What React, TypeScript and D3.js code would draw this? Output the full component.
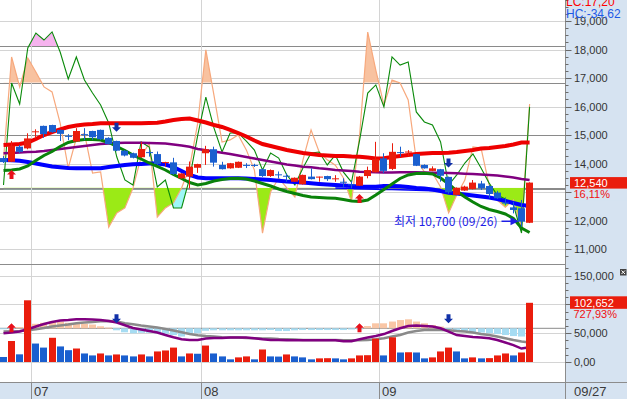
import React from 'react';
import * as d3 from 'd3';

const opens = [14190,14060,14590,14530,15110,15320,15350,15180,14970,14770,15030,15140,15180,14900,14790,14450,14360,14220,14400,14330,14040,14040,13480,13540,13850,14360,14500,13950,13830,13850,13950,13950,13800,13560,13620,13570,13360,13270,13540,13530,13560,13470,13360,13270,13220,13560,13690,14180,13810,14400,14400,14330,13950,13740,13800,13530,12900,13050,13100,13300,13210,12980,12630,12460,12430,11920];
const highs = [14260,14790,14650,15060,15200,15330,15360,15190,15030,15240,15240,15150,15190,14920,14800,14470,14380,14760,14480,14420,14060,14200,13660,14070,13990,14620,14590,14060,14020,14070,14010,13990,13820,13790,13720,13650,13510,13610,13830,13540,13570,13590,13480,13380,13560,13890,14760,14360,14710,14590,14470,14340,13970,13900,13810,13540,13160,13220,13420,13390,13240,13040,12810,12660,12720,13340];
const lows = [14020,14050,14360,14500,14880,14900,15080,14790,14820,14760,14820,14830,14820,14670,14430,14250,14180,14200,14240,13950,13890,13600,13470,13130,13670,13950,13890,13790,13820,13840,13840,13880,13530,13530,13480,13360,13350,13260,13440,13360,13390,13360,13180,13130,13210,13480,13680,13660,13770,14240,14250,13910,13820,13730,13360,12940,12890,13040,13090,13070,12780,12760,12540,12250,11780,11910];
const closes = [14050,14620,14410,14880,15130,15030,15100,15040,14960,15140,15020,14920,14850,14680,14450,14280,14200,14510,14390,13980,14050,13630,13650,13890,13980,14500,14030,13800,14010,14060,13940,13940,13560,13770,13610,13560,13500,13600,13450,13540,13450,13480,13350,13260,13540,13770,14160,13740,14410,14390,14420,13920,13830,13830,13570,12990,13150,13190,13330,13130,12930,12780,12620,12370,11960,13330];
const volumes = [8700,36400,13300,107000,32000,25000,42000,27000,20500,23400,14800,11400,14800,11400,13100,11400,9700,13100,9700,18300,20000,25000,9700,14800,14300,28500,14800,9700,4600,8000,9700,4600,21700,9700,9400,13100,9700,8000,4600,6300,6600,6300,4600,6300,11400,11800,40500,11400,42800,16500,16900,16500,6300,8000,18300,25000,18300,6300,8000,6300,6700,11400,14800,11400,16500,102652];

const maRed = [14649,14667,14684,14737,14860,15000,15105,15200,15281,15333,15368,15386,15411,15411,15411,15411,15411,15411,15421,15432,15474,15526,15561,15579,15509,15439,15351,15281,15176,15070,14948,14807,14684,14614,14544,14474,14421,14369,14333,14298,14281,14263,14263,14246,14239,14211,14176,14183,14228,14263,14298,14333,14351,14369,14369,14379,14404,14439,14474,14526,14544,14579,14614,14667,14737,14737];
const maPurple = [14358,14369,14386,14404,14414,14439,14474,14509,14544,14579,14614,14649,14684,14702,14720,14730,14730,14730,14720,14709,14702,14667,14632,14590,14509,14463,14421,14379,14333,14281,14228,14176,14123,14070,14018,13965,13930,13888,13867,13832,13807,13772,13755,13737,13712,13702,13691,13684,13684,13691,13691,13691,13684,13677,13677,13667,13656,13642,13632,13614,13597,13579,13544,13509,13456,13421];
const maBlue = [14123,14112,14098,14053,14000,13947,13895,13867,13842,13832,13832,13832,13832,13877,13912,13947,13972,13983,14000,14000,13965,13877,13737,13597,13509,13481,13481,13481,13481,13481,13474,13456,13439,13421,13396,13368,13351,13333,13305,13281,13263,13246,13228,13211,13193,13186,13186,13211,13211,13200,13176,13140,13123,13088,13035,12976,12947,12912,12877,12842,12807,12754,12684,12614,12544,12509];
const maBlue2Start = 41;
const maBlue2 = [13140,13130,13120,13112,13105,13098,13091,13084,13077,13070,13060,13053,13046,13030];
const maGreen = [13755,13772,13807,13912,14105,14281,14421,14597,14737,14807,14842,14842,14825,14737,14597,14456,14298,14158,14018,13895,13772,13614,13474,13333,13246,13298,13386,13439,13474,13481,13456,13386,13298,13211,13105,13017,12947,12877,12825,12807,12790,12779,12737,12684,12667,12719,12895,13088,13281,13474,13597,13649,13656,13632,13491,13281,13035,12825,12649,12491,12386,12316,12228,12070,11737,11579];

const stoch = [21.8,64.5,55.7,79.2,85.4,82.5,85.9,77.5,66.2,75.4,65.8,60.3,55.3,47.8,33.5,23.9,21.8,39.8,37.7,21,23.9,12.2,12.2,24.7,42.7,58.6,45.7,35.6,43.6,43.6,40.2,36.4,28.1,35.2,33.1,26,21.8,28.9,35.2,35.6,30.2,34.4,27.2,23,40.6,60.3,63.7,54.5,75.4,72,73.3,52.4,48.2,46.9,39.8,21.8,26,31,34.8,28.9,22.6,17.6,15.9,13.4,1.7,54.5];
const rsi = [40.6,79.8,68.4,79.4,74.1,68.4,66.5,54.6,37.5,48.9,50.8,35.6,36,15,20.4,22.3,29.9,41.7,47,18.8,22.3,24.2,29.9,37.9,54.6,82.5,65.3,47.4,48.2,50.1,44.4,36.7,12.7,28.4,33.7,29.9,26.5,40.6,52,43.6,40.6,38.6,33.7,24.6,50.1,89.3,74.8,61.5,71,69.9,63.4,40.6,36,35.6,30.3,20.4,27.2,32.9,45.5,45.1,31,25.3,22.6,25.3,14.6,61.9];

const volShort = [-20,-17,-13,-4,7,17,25,31,33,36,36,35,33,29,23,12,1,-5,-11,-17,-27,-36,-44,-47,-47,-41,-39,-39,-37,-37,-37,-40,-44,-47,-47,-48,-48,-48,-48,-48,-48,-48,-52,-52,-44,-37,-31,-23,-11,0,9,11,9,7,0,-13,-27,-31,-35,-37,-40,-47,-57,-67,-81,-76];
const volLong = [-13,-12,-11,-8,-4,1,7,11,15,20,23,25,28,29,27,20,16,11,7,3,-3,-9,-16,-23,-28,-31,-33,-36,-37,-37,-39,-40,-41,-41,-43,-44,-45,-47,-47,-47,-47,-47,-48,-48,-48,-47,-44,-40,-33,-27,-17,-11,-7,-7,-7,-8,-11,-13,-17,-23,-27,-33,-40,-47,-53,-57];
const volHist = [-3,-2,5,8,18,22,27,27,22,20,18,15,8,3,-8,-16,-20,-18,-18,-20,-22,-27,-33,-23,-20,-10,-8,-8,-8,-8,-8,-8,-8,-7,-11,-11,-8,-7,-7,-7,-7,-7,-7,-5,-3,9,20,20,27,33,36,27,20,13,7,-5,-9,-13,-17,-17,-20,-23,-27,-31,-33,-30];

const buySignals = [1, 44];
const sellSignals = [14, 55];

const priceTicks = [11000,12000,13000,14000,15000,16000,17000,18000,19000];
const priceLabelTicks = [11000,12000,14000,15000,16000,17000,18000,19000];
const volTicks = [0,50000,100000,150000];
const volLabelTicks = [0,50000,150000];
const monthTicks = [{ label: '07', index: 4 }, { label: '08', index: 25 }, { label: '09', index: 47 }];
const lastDate = '09/27';
const lastPriceText = '12,540';
const lastPctText = '16,11%';
const lastVolText = '102,652';
const lastVolPctText = '727,93%';
const lcText = 'LC:17,20';
const hcText = 'HC:-34,62';
const lowNote = '최저 10,700 (09/26)';
const lowIndex = 64;

const RED = '#ea1d0d';
const BLUE = '#1a5fcf';
const AXIS_BG = '#d6e3f1';
const GRID = '#d4d4d4';
const LEVEL = '#8a8a8a';
const FONT = "'Liberation Sans', Arial, sans-serif";

export default function App() {
  const N = closes.length;
  const x = d3.scaleLinear().domain([0, N - 1]).range([3.5, 529.6]);
  const cx = (i: number) => Math.floor(x(i));
  const yP = d3.scaleLinear().domain([11000, 19000]).range([249, 21]);
  const yS = d3.scaleLinear().domain([20, 80]).range([189.3, 46]);
  const yR = d3.scaleLinear().domain([30, 70]).range([187.7, 82.7]);
  const yV = d3.scaleLinear().domain([0, 150000]).range([362, 275.5]);
  const yO = d3.scaleLinear().domain([0, 100]).range([328.3, 303.3]);

  const plotR = 565.5;
  const mainB = 264;
  const volB = 382;

  const lineP = d3.line<number>().x((_, i) => x(i)).y(d => yP(d));
  const lineB2 = d3.line<number>().x((_, i) => x(i + maBlue2Start)).y(d => yP(d));
  const lineS = d3.line<number>().x((_, i) => x(i)).y(d => yS(d));
  const lineR = d3.line<number>().x((_, i) => x(i)).y(d => yR(d));
  const lineO = d3.line<number>().x((_, i) => x(i)).y(d => yO(d));
  const areaS = (lvl: number) => d3.area<number>().x((_, i) => x(i)).y0(yS(lvl)).y1(d => yS(d));
  const areaR = (lvl: number) => d3.area<number>().x((_, i) => x(i)).y0(yR(lvl)).y1(d => yR(d));

  const fmt = d3.format(',');
  const minorPrice = d3.range(10750, 19751, 250);
  const minorVol = d3.range(0, 162501, 12500);

  const upArrow = (c: number, top: number) =>
    `M${c},${top} L${c + 4.5},${top + 4.5} L${c + 2},${top + 4.5} L${c + 2},${top + 9} L${c - 2},${top + 9} L${c - 2},${top + 4.5} L${c - 4.5},${top + 4.5} Z`;
  const downArrow = (c: number, bot: number) =>
    `M${c},${bot} L${c + 4.5},${bot - 4.5} L${c + 2},${bot - 4.5} L${c + 2},${bot - 9} L${c - 2},${bot - 9} L${c - 2},${bot - 4.5} L${c - 4.5},${bot - 4.5} Z`;

  const lastI = N - 1;
  const lastY = yP(closes[lastI]);
  const lastVY = yV(volumes[lastI]);
  const noteY = yP(lows[lowIndex]) - 5.5;
  const noteX = x(lowIndex) - 24;

  return (
    <div style={{ position: 'absolute', left: 0, top: 0 }}>
      <svg width={627} height={399} style={{ display: 'block' }} fontFamily={FONT}>
        <defs>
          <clipPath id="mainClip"><rect x={0} y={0} width={plotR} height={mainB} /></clipPath>
          <clipPath id="aboveS"><rect x={0} y={0} width={plotR} height={yS(80)} /></clipPath>
          <clipPath id="belowS"><rect x={0} y={yS(20)} width={plotR} height={mainB - yS(20)} /></clipPath>
          <clipPath id="aboveR"><rect x={0} y={0} width={plotR} height={yR(70)} /></clipPath>
          <clipPath id="belowR"><rect x={0} y={yR(30)} width={plotR} height={mainB - yR(30)} /></clipPath>
          <clipPath id="volClip"><rect x={0} y={mainB + 1} width={plotR} height={volB - mainB - 1} /></clipPath>
        </defs>
        <rect x={0} y={0} width={627} height={399} fill="#ffffff" />

        {/* main grid */}
        <g clipPath="url(#mainClip)">
          {priceTicks.map(t => (
            <line key={'g' + t} x1={0} x2={plotR} y1={Math.round(yP(t)) + 0.5} y2={Math.round(yP(t)) + 0.5} stroke={GRID} />
          ))}
          {[yS(80), yR(70), yR(50), yR(30), yS(20)].map((yy, k) => (
            <line key={'lv' + k} x1={0} x2={plotR} y1={Math.round(yy) + 0.5} y2={Math.round(yy) + 0.5} stroke={LEVEL} />
          ))}
        </g>
        {monthTicks.map(m => (
          <line key={'vg' + m.label} x1={cx(m.index) - 3.5} x2={cx(m.index) - 3.5} y1={0} y2={volB} stroke={GRID} />
        ))}

        {/* oscillator fills */}
        <g clipPath="url(#mainClip)">
          <path d={areaS(20)(stoch) || ''} fill="#9ef7f7" clipPath="url(#belowS)" />
          <path d={areaR(30)(rsi) || ''} fill="#9bea16" clipPath="url(#belowR)" />
          <path d={areaS(80)(stoch) || ''} fill="#f6b3ee" clipPath="url(#aboveS)" />
          <path d={areaR(70)(rsi) || ''} fill="#f8c2a0" clipPath="url(#aboveR)" />
          <path d={lineR(rsi) || ''} fill="none" stroke="#f7a87c" strokeWidth={1.2} />
          <path d={lineS(stoch) || ''} fill="none" stroke="#0a8a0a" strokeWidth={1.1} />

          {/* moving averages */}
          <path d={lineP(maPurple) || ''} fill="none" stroke="#800080" strokeWidth={2.5} />
          <path d={lineB2(maBlue2) || ''} fill="none" stroke="#0000ff" strokeWidth={1.5} />
          <path d={lineP(maBlue) || ''} fill="none" stroke="#0000ff" strokeWidth={4} />
          <path d={lineP(maGreen) || ''} fill="none" stroke="#0a820a" strokeWidth={3} />
          <path d={lineP(maRed) || ''} fill="none" stroke="#ee0000" strokeWidth={4} />

          {/* candles */}
          {closes.map((c, i) => {
            const o = opens[i];
            const up = c >= o;
            const col = up ? RED : BLUE;
            const top = yP(Math.max(o, c));
            const bot = yP(Math.min(o, c));
            const xc = cx(i);
            return (
              <g key={'c' + i}>
                <line x1={xc + 0.5} x2={xc + 0.5} y1={yP(highs[i])} y2={yP(lows[i])} stroke={col} />
                <rect x={xc - 3} y={top} width={7} height={Math.max(1, bot - top)} fill={col} />
              </g>
            );
          })}

          {buySignals.map(i => (
            <path key={'bu' + i} d={upArrow(cx(i) + 0.5, yP(lows[i]) + 8)} fill="#e8101a" />
          ))}
          {sellSignals.map(i => (
            <path key={'se' + i} d={downArrow(cx(i) + 0.5, yP(highs[i]) - 9)} fill="#1030a8" />
          ))}

          {/* low annotation */}
          <text x={noteX} y={noteY + 5} textAnchor="end" fontSize={12} fill="#1e1ee6" fontFamily="'Noto Sans CJK KR', sans-serif">{lowNote}</text>
          <line x1={noteX + 4} x2={noteX + 15} y1={noteY} y2={noteY} stroke="#1e1ee6" strokeWidth={1.5} />
          <path d={`M${noteX + 13},${noteY - 4} L${noteX + 21},${noteY} L${noteX + 13},${noteY + 4} Z`} fill="#1e1ee6" />
        </g>

        {/* panel separator */}
        <line x1={0} x2={plotR} y1={mainB + 0.5} y2={mainB + 0.5} stroke="#8c8c8c" />

        {/* volume panel */}
        <g clipPath="url(#volClip)">
          {volTicks.map(t => (
            <line key={'vt' + t} x1={0} x2={plotR} y1={Math.round(yV(t)) + 0.5} y2={Math.round(yV(t)) + 0.5} stroke={GRID} />
          ))}
          <line x1={0} x2={plotR} y1={yO(0)} y2={yO(0)} stroke={LEVEL} />
          {volHist.map((h, i) => {
            const a = yO(Math.max(0, h));
            const b = yO(Math.min(0, h));
            return (
              <rect key={'h' + i} x={cx(i) - 3} y={a} width={7} height={Math.max(1, b - a)} fill={h >= 0 ? '#f9c6a6' : '#a6dcf2'} />
            );
          })}
          <path d={lineO(volLong) || ''} fill="none" stroke="#8a8a8a" strokeWidth={2.5} />
          <path d={lineO(volShort) || ''} fill="none" stroke="#800080" strokeWidth={2.5} />
          {volumes.map((v, i) => {
            const up = i > 0 && v > volumes[i - 1];
            return (
              <rect key={'v' + i} x={cx(i) - 3} y={yV(v)} width={7} height={yV(0) - yV(v)} fill={up ? RED : BLUE} />
            );
          })}
          {buySignals.map(i => (
            <path key={'vbu' + i} d={upArrow(cx(i) + 0.5, yO(0) - 5)} fill="#e8101a" />
          ))}
          {sellSignals.map(i => (
            <path key={'vse' + i} d={downArrow(cx(i) + 0.5, yO(0) - 5)} fill="#1030a8" />
          ))}
        </g>

        {/* bottom date strip */}
        <rect x={0} y={volB} width={627} height={399 - volB} fill={AXIS_BG} />
        <line x1={0} x2={627} y1={volB + 0.5} y2={volB + 0.5} stroke="#8c8c8c" />
        {monthTicks.map(m => (
          <g key={'mt' + m.label}>
            <line x1={cx(m.index) - 3.5} x2={cx(m.index) - 3.5} y1={volB} y2={399} stroke="#8c8c8c" />
            <text x={cx(m.index) - 1} y={395.5} fontSize={13} fill="#3a3a3a">{m.label}</text>
          </g>
        ))}

        {/* right axis */}
        <rect x={plotR} y={0} width={627 - plotR} height={399} fill={AXIS_BG} />
        <line x1={plotR} x2={plotR} y1={0} y2={399} stroke="#8c8c8c" />
        {minorPrice.map(t => (
          <line key={'mp' + t} x1={plotR} x2={plotR + (t % 1000 === 0 ? 6 : 3)} y1={Math.round(yP(t)) + 0.5} y2={Math.round(yP(t)) + 0.5} stroke="#6a6a6a" />
        ))}
        {priceLabelTicks.map(t => (
          <text key={'pl' + t} x={574} y={yP(t) + 4} fontSize={11} fill="#333">{fmt(t)}</text>
        ))}
        {minorVol.map(t => (
          <line key={'mv' + t} x1={plotR} x2={plotR + (t % 50000 === 0 ? 6 : 3)} y1={Math.round(yV(t)) + 0.5} y2={Math.round(yV(t)) + 0.5} stroke="#6a6a6a" />
        ))}
        {volLabelTicks.map(t => (
          <text key={'vl' + t} x={574} y={yV(t) + 4} fontSize={11} fill="#333">{t === 0 ? '0,00' : fmt(t)}</text>
        ))}
        <line x1={plotR} x2={627} y1={volB + 0.5} y2={volB + 0.5} stroke="#8c8c8c" />
        <text x={574} y={395.5} fontSize={13} fill="#3a3a3a">{lastDate}</text>

        {/* current price label */}
        <rect x={570} y={lastY - 5.5} width={57} height={11.5} fill={RED} />
        <text x={574} y={lastY + 4.5} fontSize={11} fill="#ffffff">{lastPriceText}</text>
        <rect x={572} y={lastY + 6.5} width={55} height={11} fill={AXIS_BG} />
        <text x={573.5} y={lastY + 15.5} fontSize={11} fill="#f01010">{lastPctText}</text>

        {/* current volume label */}
        <rect x={570} y={lastVY - 6.5} width={57} height={12.5} fill={RED} />
        <text x={574} y={lastVY + 4} fontSize={11} fill="#ffffff">{lastVolText}</text>
        <text x={573.5} y={lastVY + 15} fontSize={11} fill="#f01010">{lastVolPctText}</text>

        {/* close box */}
        <rect x={620} y={269} width={6.5} height={6.5} fill="#444" />
        <path d="M621.5,270.5 L625,274 M625,270.5 L621.5,274" stroke="#fff" strokeWidth={1} />

        {/* top legend */}
        <text x={566} y={5.5} fontSize={12} fill="#ff0000">{lcText}</text>
        <text x={566} y={17.5} fontSize={12} fill="#1e5ae6">{hcText}</text>
      </svg>
    </div>
  );
}
